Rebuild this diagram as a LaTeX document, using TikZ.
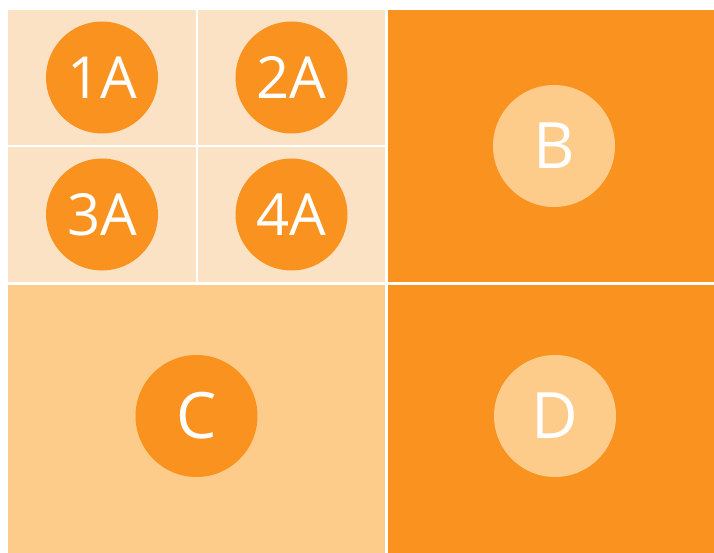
\documentclass[tikz,border=0pt]{standalone}
\usepackage{fontspec}
\setmainfont{Open Sans}
\definecolor{peach}{HTML}{FCE2C5}
\definecolor{orng}{HTML}{F9921E}
\definecolor{lorng}{HTML}{FDCB8A}

\begin{document}
\begin{tikzpicture}[x=1pt,y=-1pt,
  tile/.style={rectangle,anchor=north west,inner sep=0pt,outer sep=0pt},
  dot/.style={circle,inner sep=0pt,text=white},
  small/.style={dot,minimum size=112pt,fill=orng,font=\fontsize{58}{58}\selectfont},
  big/.style={dot,minimum size=122pt,font=\fontsize{64}{64}\selectfont}]
\useasboundingbox (0,0) rectangle (714,553);
% quarter tiles
\node[tile,fill=peach,minimum width=188pt,minimum height=135pt] (t1) at (8,10) {};
\node[tile,fill=peach,minimum width=187pt,minimum height=135pt] (t2) at (198,10) {};
\node[tile,fill=peach,minimum width=188pt,minimum height=135pt] (t3) at (8,147) {};
\node[tile,fill=peach,minimum width=187pt,minimum height=135pt] (t4) at (198,147) {};
% large tiles
\node[tile,fill=orng,minimum width=326pt,minimum height=272pt] (tB) at (388,10) {};
\node[tile,fill=lorng,minimum width=377pt,minimum height=268pt] (tC) at (8,285) {};
\node[tile,fill=orng,minimum width=326pt,minimum height=268pt] (tD) at (388,285) {};
% labels
\node[small] (c1) at (t1.center) {1A};
\node[small] (c2) at (t2.center) {2A};
\node[small] (c3) at (t3.center) {3A};
\node[small] (c4) at (t4.center) {4A};
\node[big,fill=lorng] (cB) at ([xshift=3pt]tB.center) {B};
\node[big,fill=orng] (cC) at ([yshift=3pt]tC.center) {C};
\node[big,fill=lorng] (cD) at ([xshift=4pt,yshift=3pt]tD.center) {D};
\end{tikzpicture}
\end{document}
